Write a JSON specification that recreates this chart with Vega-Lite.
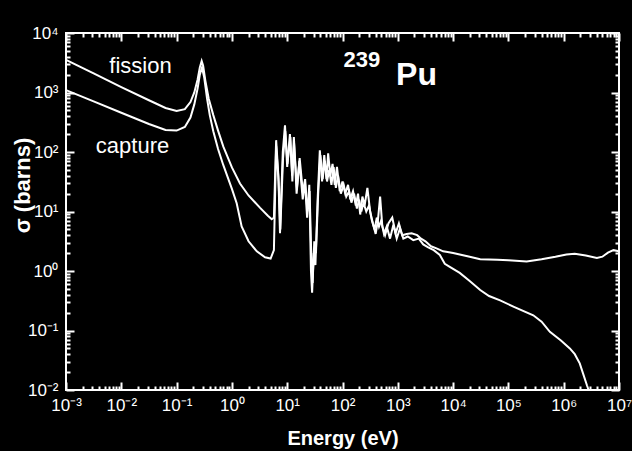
{
  "$schema": "https://vega.github.io/schema/vega-lite/v6.json",
  "width": 553,
  "height": 357,
  "autosize": {"type": "none"},
  "padding": {"left": 66, "top": 33, "right": 13, "bottom": 61},
  "background": "black",
  "config": {"view": {"stroke": "white", "strokeWidth": 2}, "font": "Liberation Sans"},
  "datasets": {
    "curves": [
      {"reaction": "fission", "E": 0.001, "sigma": 3548},
      {"reaction": "fission", "E": 0.00316, "sigma": 2089},
      {"reaction": "fission", "E": 0.01, "sigma": 1230},
      {"reaction": "fission", "E": 0.0316, "sigma": 741},
      {"reaction": "fission", "E": 0.0631, "sigma": 550},
      {"reaction": "fission", "E": 0.1, "sigma": 490},
      {"reaction": "fission", "E": 0.141, "sigma": 525},
      {"reaction": "fission", "E": 0.178, "sigma": 692},
      {"reaction": "fission", "E": 0.209, "sigma": 1000},
      {"reaction": "fission", "E": 0.24, "sigma": 1660},
      {"reaction": "fission", "E": 0.263, "sigma": 2630},
      {"reaction": "fission", "E": 0.284, "sigma": 3390},
      {"reaction": "fission", "E": 0.302, "sigma": 2820},
      {"reaction": "fission", "E": 0.331, "sigma": 1585},
      {"reaction": "fission", "E": 0.38, "sigma": 794},
      {"reaction": "fission", "E": 0.461, "sigma": 417},
      {"reaction": "fission", "E": 0.562, "sigma": 229},
      {"reaction": "fission", "E": 0.7, "sigma": 123},
      {"reaction": "fission", "E": 1.0, "sigma": 55},
      {"reaction": "fission", "E": 1.4, "sigma": 29.5},
      {"reaction": "fission", "E": 2.0, "sigma": 18.6},
      {"reaction": "fission", "E": 3.24, "sigma": 11.5},
      {"reaction": "fission", "E": 4.47, "sigma": 8.5},
      {"reaction": "fission", "E": 5.25, "sigma": 7.4},
      {"reaction": "fission", "E": 5.75, "sigma": 7.9},
      {"reaction": "fission", "E": 6.31, "sigma": 158},
      {"reaction": "fission", "E": 6.92, "sigma": 40},
      {"reaction": "fission", "E": 7.41, "sigma": 4.3},
      {"reaction": "fission", "E": 8.32, "sigma": 100},
      {"reaction": "fission", "E": 9.12, "sigma": 282},
      {"reaction": "fission", "E": 10.0, "sigma": 56},
      {"reaction": "fission", "E": 11.2, "sigma": 200},
      {"reaction": "fission", "E": 12.3, "sigma": 40},
      {"reaction": "fission", "E": 13.2, "sigma": 178},
      {"reaction": "fission", "E": 14.8, "sigma": 20},
      {"reaction": "fission", "E": 16.6, "sigma": 71},
      {"reaction": "fission", "E": 19.1, "sigma": 16},
      {"reaction": "fission", "E": 20.9, "sigma": 32},
      {"reaction": "fission", "E": 22.9, "sigma": 7.9},
      {"reaction": "fission", "E": 25.1, "sigma": 28},
      {"reaction": "fission", "E": 26.9, "sigma": 1.0},
      {"reaction": "fission", "E": 28.2, "sigma": 0.43},
      {"reaction": "fission", "E": 30.2, "sigma": 2.0},
      {"reaction": "fission", "E": 32.4, "sigma": 1.26},
      {"reaction": "fission", "E": 35.5, "sigma": 15.8},
      {"reaction": "fission", "E": 38.9, "sigma": 107},
      {"reaction": "fission", "E": 42.7, "sigma": 32},
      {"reaction": "fission", "E": 46.8, "sigma": 89},
      {"reaction": "fission", "E": 51.3, "sigma": 35},
      {"reaction": "fission", "E": 55.0, "sigma": 95},
      {"reaction": "fission", "E": 60.3, "sigma": 40},
      {"reaction": "fission", "E": 66.1, "sigma": 63},
      {"reaction": "fission", "E": 72.4, "sigma": 28},
      {"reaction": "fission", "E": 79.4, "sigma": 56},
      {"reaction": "fission", "E": 89.1, "sigma": 22},
      {"reaction": "fission", "E": 100, "sigma": 32},
      {"reaction": "fission", "E": 112, "sigma": 20},
      {"reaction": "fission", "E": 126, "sigma": 28},
      {"reaction": "fission", "E": 138, "sigma": 16},
      {"reaction": "fission", "E": 155, "sigma": 22},
      {"reaction": "fission", "E": 174, "sigma": 12.6},
      {"reaction": "fission", "E": 191, "sigma": 20},
      {"reaction": "fission", "E": 209, "sigma": 8.9},
      {"reaction": "fission", "E": 229, "sigma": 17.8},
      {"reaction": "fission", "E": 251, "sigma": 12.6},
      {"reaction": "fission", "E": 282, "sigma": 25},
      {"reaction": "fission", "E": 316, "sigma": 10},
      {"reaction": "fission", "E": 355, "sigma": 6.3},
      {"reaction": "fission", "E": 398, "sigma": 4.2},
      {"reaction": "fission", "E": 437, "sigma": 7.1},
      {"reaction": "fission", "E": 479, "sigma": 17.8},
      {"reaction": "fission", "E": 525, "sigma": 5.6},
      {"reaction": "fission", "E": 589, "sigma": 4.0},
      {"reaction": "fission", "E": 676, "sigma": 6.3},
      {"reaction": "fission", "E": 794, "sigma": 7.9},
      {"reaction": "fission", "E": 912, "sigma": 4.3},
      {"reaction": "fission", "E": 1047, "sigma": 6.3},
      {"reaction": "fission", "E": 1202, "sigma": 4.0},
      {"reaction": "fission", "E": 1445, "sigma": 4.2},
      {"reaction": "fission", "E": 1778, "sigma": 4.3},
      {"reaction": "fission", "E": 2239, "sigma": 4.0},
      {"reaction": "fission", "E": 2630, "sigma": 3.5},
      {"reaction": "fission", "E": 3162, "sigma": 3.16},
      {"reaction": "fission", "E": 3981, "sigma": 2.6},
      {"reaction": "fission", "E": 5012, "sigma": 2.4},
      {"reaction": "fission", "E": 6607, "sigma": 2.14},
      {"reaction": "fission", "E": 7943, "sigma": 2.09},
      {"reaction": "fission", "E": 10000, "sigma": 2.0},
      {"reaction": "fission", "E": 13183, "sigma": 1.9},
      {"reaction": "fission", "E": 19953, "sigma": 1.74},
      {"reaction": "fission", "E": 30900, "sigma": 1.58},
      {"reaction": "fission", "E": 63100, "sigma": 1.55},
      {"reaction": "fission", "E": 100000, "sigma": 1.51},
      {"reaction": "fission", "E": 213800, "sigma": 1.45},
      {"reaction": "fission", "E": 398100, "sigma": 1.58},
      {"reaction": "fission", "E": 707900, "sigma": 1.74},
      {"reaction": "fission", "E": 1120000, "sigma": 1.9},
      {"reaction": "fission", "E": 1585000, "sigma": 1.95},
      {"reaction": "fission", "E": 2510000, "sigma": 1.82},
      {"reaction": "fission", "E": 3980000, "sigma": 1.66},
      {"reaction": "fission", "E": 5010000, "sigma": 1.74},
      {"reaction": "fission", "E": 6310000, "sigma": 2.04},
      {"reaction": "fission", "E": 7940000, "sigma": 2.24},
      {"reaction": "fission", "E": 10000000, "sigma": 2.14},
      {"reaction": "capture", "E": 0.001, "sigma": 1096},
      {"reaction": "capture", "E": 0.00316, "sigma": 708},
      {"reaction": "capture", "E": 0.01, "sigma": 457},
      {"reaction": "capture", "E": 0.0316, "sigma": 295},
      {"reaction": "capture", "E": 0.0631, "sigma": 234},
      {"reaction": "capture", "E": 0.1, "sigma": 229},
      {"reaction": "capture", "E": 0.141, "sigma": 263},
      {"reaction": "capture", "E": 0.178, "sigma": 380},
      {"reaction": "capture", "E": 0.209, "sigma": 631},
      {"reaction": "capture", "E": 0.24, "sigma": 1175},
      {"reaction": "capture", "E": 0.263, "sigma": 1995},
      {"reaction": "capture", "E": 0.288, "sigma": 2630},
      {"reaction": "capture", "E": 0.316, "sigma": 1778},
      {"reaction": "capture", "E": 0.355, "sigma": 794},
      {"reaction": "capture", "E": 0.398, "sigma": 417},
      {"reaction": "capture", "E": 0.461, "sigma": 224},
      {"reaction": "capture", "E": 0.562, "sigma": 112},
      {"reaction": "capture", "E": 0.7, "sigma": 60},
      {"reaction": "capture", "E": 1.0, "sigma": 24},
      {"reaction": "capture", "E": 1.22, "sigma": 13.8},
      {"reaction": "capture", "E": 1.5, "sigma": 5.6},
      {"reaction": "capture", "E": 2.0, "sigma": 3.16},
      {"reaction": "capture", "E": 2.82, "sigma": 2.14},
      {"reaction": "capture", "E": 3.98, "sigma": 1.7},
      {"reaction": "capture", "E": 5.01, "sigma": 1.62},
      {"reaction": "capture", "E": 5.75, "sigma": 2.24},
      {"reaction": "capture", "E": 6.31, "sigma": 126},
      {"reaction": "capture", "E": 7.0, "sigma": 32},
      {"reaction": "capture", "E": 7.5, "sigma": 5.0},
      {"reaction": "capture", "E": 8.41, "sigma": 79},
      {"reaction": "capture", "E": 9.23, "sigma": 224},
      {"reaction": "capture", "E": 10.1, "sigma": 63},
      {"reaction": "capture", "E": 11.4, "sigma": 178},
      {"reaction": "capture", "E": 12.4, "sigma": 32},
      {"reaction": "capture", "E": 13.3, "sigma": 141},
      {"reaction": "capture", "E": 15.0, "sigma": 25},
      {"reaction": "capture", "E": 16.8, "sigma": 79},
      {"reaction": "capture", "E": 19.3, "sigma": 20},
      {"reaction": "capture", "E": 21.1, "sigma": 35},
      {"reaction": "capture", "E": 23.2, "sigma": 10},
      {"reaction": "capture", "E": 25.4, "sigma": 22},
      {"reaction": "capture", "E": 27.2, "sigma": 2.0},
      {"reaction": "capture", "E": 28.8, "sigma": 0.63},
      {"reaction": "capture", "E": 30.9, "sigma": 3.16},
      {"reaction": "capture", "E": 33.1, "sigma": 2.0},
      {"reaction": "capture", "E": 36.3, "sigma": 20},
      {"reaction": "capture", "E": 39.8, "sigma": 89},
      {"reaction": "capture", "E": 43.7, "sigma": 35},
      {"reaction": "capture", "E": 47.9, "sigma": 71},
      {"reaction": "capture", "E": 52.5, "sigma": 32},
      {"reaction": "capture", "E": 57.5, "sigma": 50},
      {"reaction": "capture", "E": 63.1, "sigma": 28},
      {"reaction": "capture", "E": 69.2, "sigma": 56},
      {"reaction": "capture", "E": 75.9, "sigma": 25},
      {"reaction": "capture", "E": 83.2, "sigma": 40},
      {"reaction": "capture", "E": 93.3, "sigma": 20},
      {"reaction": "capture", "E": 105, "sigma": 28},
      {"reaction": "capture", "E": 117, "sigma": 17.8},
      {"reaction": "capture", "E": 132, "sigma": 22},
      {"reaction": "capture", "E": 145, "sigma": 14.1},
      {"reaction": "capture", "E": 162, "sigma": 20},
      {"reaction": "capture", "E": 182, "sigma": 11.2},
      {"reaction": "capture", "E": 200, "sigma": 15.8},
      {"reaction": "capture", "E": 219, "sigma": 10},
      {"reaction": "capture", "E": 240, "sigma": 14.1},
      {"reaction": "capture", "E": 269, "sigma": 10},
      {"reaction": "capture", "E": 302, "sigma": 12.6},
      {"reaction": "capture", "E": 339, "sigma": 7.1},
      {"reaction": "capture", "E": 380, "sigma": 5.0},
      {"reaction": "capture", "E": 417, "sigma": 7.9},
      {"reaction": "capture", "E": 457, "sigma": 5.6},
      {"reaction": "capture", "E": 501, "sigma": 7.1},
      {"reaction": "capture", "E": 562, "sigma": 4.2},
      {"reaction": "capture", "E": 631, "sigma": 5.6},
      {"reaction": "capture", "E": 724, "sigma": 3.5},
      {"reaction": "capture", "E": 832, "sigma": 6.0},
      {"reaction": "capture", "E": 955, "sigma": 3.5},
      {"reaction": "capture", "E": 1096, "sigma": 5.2},
      {"reaction": "capture", "E": 1259, "sigma": 3.5},
      {"reaction": "capture", "E": 1514, "sigma": 3.8},
      {"reaction": "capture", "E": 1905, "sigma": 3.3},
      {"reaction": "capture", "E": 2399, "sigma": 3.5},
      {"reaction": "capture", "E": 2884, "sigma": 2.8},
      {"reaction": "capture", "E": 3548, "sigma": 2.5},
      {"reaction": "capture", "E": 4467, "sigma": 2.24},
      {"reaction": "capture", "E": 5754, "sigma": 1.86},
      {"reaction": "capture", "E": 7079, "sigma": 1.32},
      {"reaction": "capture", "E": 8710, "sigma": 1.17},
      {"reaction": "capture", "E": 13183, "sigma": 0.93},
      {"reaction": "capture", "E": 19953, "sigma": 0.68},
      {"reaction": "capture", "E": 30900, "sigma": 0.48},
      {"reaction": "capture", "E": 44700, "sigma": 0.38},
      {"reaction": "capture", "E": 70800, "sigma": 0.32},
      {"reaction": "capture", "E": 125900, "sigma": 0.25},
      {"reaction": "capture", "E": 281800, "sigma": 0.18},
      {"reaction": "capture", "E": 398100, "sigma": 0.141},
      {"reaction": "capture", "E": 562300, "sigma": 0.095},
      {"reaction": "capture", "E": 891300, "sigma": 0.068},
      {"reaction": "capture", "E": 1290000, "sigma": 0.05},
      {"reaction": "capture", "E": 1585000, "sigma": 0.04},
      {"reaction": "capture", "E": 1950000, "sigma": 0.028},
      {"reaction": "capture", "E": 2290000, "sigma": 0.0178},
      {"reaction": "capture", "E": 2630000, "sigma": 0.012},
      {"reaction": "capture", "E": 2820000, "sigma": 0.01}
    ],
    "labels": [
      {"label": "fission", "style": "curve", "E": 0.0222, "sigma": 2128},
      {"label": "capture", "style": "curve", "E": 0.01596, "sigma": 95},
      {"label": "239", "style": "mass", "E": 225, "sigma": 2685},
      {"label": "Pu", "style": "element", "E": 2178, "sigma": 1336}
    ]
  },
  "layer": [
    {
      "data": {"name": "curves"},
      "mark": {"type": "line", "color": "white", "strokeWidth": 2},
      "encoding": {
        "x": {
          "field": "E", "type": "quantitative",
          "scale": {"type": "log", "domain": [0.001, 10000000], "nice": false},
          "axis": {
            "orient": "bottom",
            "values": [0.001,0.002,0.003,0.004,0.005,0.006,0.007,0.008,0.009,0.01,0.02,0.03,0.04,0.05,0.06,0.07,0.08,0.09,0.1,0.2,0.3,0.4,0.5,0.6,0.7,0.8,0.9,1,2,3,4,5,6,7,8,9,10,20,30,40,50,60,70,80,90,100,200,300,400,500,600,700,800,900,1000,2000,3000,4000,5000,6000,7000,8000,9000,10000,20000,30000,40000,50000,60000,70000,80000,90000,100000,200000,300000,400000,500000,600000,700000,800000,900000,1000000,2000000,3000000,4000000,5000000,6000000,7000000,8000000,9000000,10000000],
            "labelExpr": "abs(log(datum.value)/LN10 - round(log(datum.value)/LN10)) < 0.001 ? '10' + ['⁻³','⁻²','⁻¹','⁰','¹','²','³','⁴','⁵','⁶','⁷'][round(log(datum.value)/LN10)+3] : ''",
            "tickSize": -8,
            "tickDash": {"condition": {"test": "abs(log(datum.value)/LN10 - round(log(datum.value)/LN10)) < 0.001", "value": [100, 1]}, "value": [4, 40]},
            "tickColor": "white", "tickWidth": 2,
            "domainColor": "white",
            "grid": false,
            "labelColor": "white", "labelFont": "Liberation Sans", "labelFontSize": 17,
            "labelPadding": 15, "labelFlush": false, "labelOverlap": false, "labelBound": false,
            "title": "Energy (eV)", "titleColor": "white", "titleFont": "Liberation Sans",
            "titleFontSize": 20, "titleFontWeight": "bold", "titleY": 54, "titleBaseline": "alphabetic"
          }
        },
        "y": {
          "field": "sigma", "type": "quantitative",
          "scale": {"type": "log", "domain": [0.01, 10000], "nice": false},
          "axis": {
            "orient": "left",
            "values": [0.01,0.02,0.03,0.04,0.05,0.06,0.07,0.08,0.09,0.1,0.2,0.3,0.4,0.5,0.6,0.7,0.8,0.9,1,2,3,4,5,6,7,8,9,10,20,30,40,50,60,70,80,90,100,200,300,400,500,600,700,800,900,1000,2000,3000,4000,5000,6000,7000,8000,9000,10000],
            "labelExpr": "abs(log(datum.value)/LN10 - round(log(datum.value)/LN10)) < 0.001 ? '10' + ['⁻²','⁻¹','⁰','¹','²','³','⁴'][round(log(datum.value)/LN10)+2] : ''",
            "tickSize": -8,
            "tickDash": {"condition": {"test": "abs(log(datum.value)/LN10 - round(log(datum.value)/LN10)) < 0.001", "value": [100, 1]}, "value": [4, 40]},
            "tickColor": "white", "tickWidth": 2,
            "domainColor": "white",
            "grid": false,
            "labelColor": "white", "labelFont": "Liberation Sans", "labelFontSize": 17,
            "labelPadding": 16, "labelFlush": false, "labelOverlap": false, "labelBound": false,
            "title": "σ (barns)", "titleColor": "white", "titleFont": "Liberation Sans",
            "titleFontSize": 22, "titleFontWeight": "bold", "titleAngle": -90,
            "titleX": -44, "titleY": 152, "titleAlign": "center", "titleBaseline": "middle"
          }
        },
        "detail": {"field": "reaction", "type": "nominal"}
      }
    },
    {
      "data": {"name": "curves"},
      "mark": {"type": "line", "opacity": 0},
      "encoding": {
        "x": {
          "field": "E", "type": "quantitative",
          "scale": {"type": "log", "domain": [0.001, 10000000], "nice": false},
          "axis": {
            "orient": "top",
            "values": [0.001,0.002,0.003,0.004,0.005,0.006,0.007,0.008,0.009,0.01,0.02,0.03,0.04,0.05,0.06,0.07,0.08,0.09,0.1,0.2,0.3,0.4,0.5,0.6,0.7,0.8,0.9,1,2,3,4,5,6,7,8,9,10,20,30,40,50,60,70,80,90,100,200,300,400,500,600,700,800,900,1000,2000,3000,4000,5000,6000,7000,8000,9000,10000,20000,30000,40000,50000,60000,70000,80000,90000,100000,200000,300000,400000,500000,600000,700000,800000,900000,1000000,2000000,3000000,4000000,5000000,6000000,7000000,8000000,9000000,10000000],
            "labels": false,
            "tickSize": -8,
            "tickDash": {"condition": {"test": "abs(log(datum.value)/LN10 - round(log(datum.value)/LN10)) < 0.001", "value": [100, 1]}, "value": [4, 40]},
            "tickColor": "white", "tickWidth": 2,
            "domainColor": "white",
            "grid": false, "title": null
          }
        },
        "y": {
          "field": "sigma", "type": "quantitative",
          "scale": {"type": "log", "domain": [0.01, 10000], "nice": false},
          "axis": {
            "orient": "right",
            "values": [0.01,0.02,0.03,0.04,0.05,0.06,0.07,0.08,0.09,0.1,0.2,0.3,0.4,0.5,0.6,0.7,0.8,0.9,1,2,3,4,5,6,7,8,9,10,20,30,40,50,60,70,80,90,100,200,300,400,500,600,700,800,900,1000,2000,3000,4000,5000,6000,7000,8000,9000,10000],
            "labels": false,
            "tickSize": -8,
            "tickDash": {"condition": {"test": "abs(log(datum.value)/LN10 - round(log(datum.value)/LN10)) < 0.001", "value": [100, 1]}, "value": [4, 40]},
            "tickColor": "white", "tickWidth": 2,
            "domainColor": "white",
            "grid": false, "title": null
          }
        },
        "detail": {"field": "reaction", "type": "nominal"}
      }
    },
    {
      "data": {"name": "labels"},
      "transform": [{"filter": "datum.style === 'curve'"}],
      "mark": {"type": "text", "color": "white", "font": "Liberation Sans", "fontSize": 22, "align": "center", "baseline": "alphabetic"},
      "encoding": {
        "x": {"field": "E", "type": "quantitative", "axis": null},
        "y": {"field": "sigma", "type": "quantitative", "axis": null},
        "text": {"field": "label"}
      }
    },
    {
      "data": {"name": "labels"},
      "transform": [{"filter": "datum.style === 'mass'"}],
      "mark": {"type": "text", "color": "white", "font": "Liberation Sans", "fontSize": 22, "fontWeight": "bold", "align": "center", "baseline": "alphabetic"},
      "encoding": {
        "x": {"field": "E", "type": "quantitative", "axis": null},
        "y": {"field": "sigma", "type": "quantitative", "axis": null},
        "text": {"field": "label"}
      }
    },
    {
      "data": {"name": "labels"},
      "transform": [{"filter": "datum.style === 'element'"}],
      "mark": {"type": "text", "color": "white", "font": "Liberation Sans", "fontSize": 32, "fontWeight": "bold", "align": "center", "baseline": "alphabetic"},
      "encoding": {
        "x": {"field": "E", "type": "quantitative", "axis": null},
        "y": {"field": "sigma", "type": "quantitative", "axis": null},
        "text": {"field": "label"}
      }
    }
  ],
  "resolve": {"axis": {"x": "independent", "y": "independent"}}
}
